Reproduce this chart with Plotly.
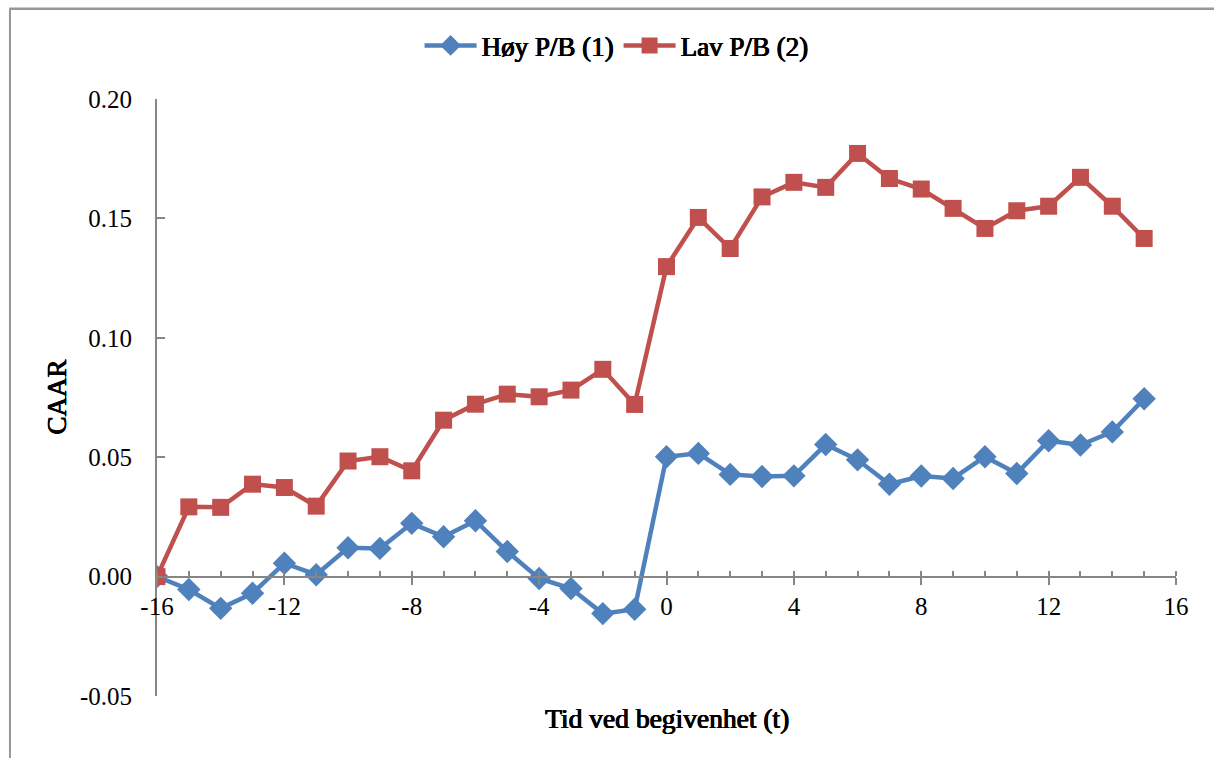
import plotly.graph_objects as go

t = list(range(-16, 16))
hoy = [0.000, -0.0054, -0.0133, -0.0070, 0.0056, 0.0008, 0.0121, 0.0118, 0.0223, 0.0167,
       0.0234, 0.0105, -0.0008, -0.0050, -0.0155, -0.0137,
       0.0502, 0.0516, 0.0428, 0.0419, 0.0422, 0.0553, 0.0489, 0.0387, 0.0421, 0.0411,
       0.0502, 0.0432, 0.0569, 0.0551, 0.0606, 0.0745]
lav = [0.000, 0.0292, 0.0290, 0.0387, 0.0373, 0.0295, 0.0484, 0.0502, 0.0443, 0.0655,
       0.0722, 0.0764, 0.0753, 0.0781, 0.0868, 0.0721,
       0.1298, 0.1504, 0.1374, 0.1590, 0.1651, 0.1630, 0.1772, 0.1667, 0.1623, 0.1542,
       0.1458, 0.1532, 0.1551, 0.1672, 0.1551, 0.1416]

x_tickvals = [-16, -12, -8, -4, 0, 4, 8, 12, 16]
x_ticktext = ["-16", "-12", "-8", "-4", "0", "4", "8", "12", "16"]
y_tickvals = [-0.05, 0.0, 0.05, 0.10, 0.15, 0.20]
y_ticktext = ["-0.05", "0.00", "0.05", "0.10", "0.15", "0.20"]

BLUE = "#4F81BD"
RED = "#C0504D"
AXIS = "#868686"
FONT = "Liberation Serif"
FAUX_BOLD = "0.7px 0 0 black, -0.3px 0 0 black, 0 0.4px 0 black"

fig = go.Figure()
fig.add_trace(go.Scatter(x=t, y=hoy, name="Høy P/B (1)", mode="lines+markers",
                         line=dict(color=BLUE, width=4.5),
                         marker=dict(symbol="diamond", size=18, color=BLUE)))
fig.add_trace(go.Scatter(x=t, y=lav, name="Lav P/B (2)", mode="lines+markers",
                         line=dict(color=RED, width=4.5),
                         marker=dict(symbol="square", size=17, color=RED)))

fig.update_layout(
    width=1214, height=758,
    margin=dict(l=157, r=38, t=99, b=62),
    paper_bgcolor="white", plot_bgcolor="white",
    font=dict(family=FONT, size=25, color="black"),
    showlegend=True,
    legend=dict(orientation="h", x=0.451, y=1.089, xanchor="center", yanchor="middle",
                font=dict(family=FONT, size=27, color="black", shadow=FAUX_BOLD),
                itemwidth=52, bgcolor="rgba(0,0,0,0)"),
    xaxis=dict(range=[-16, 16], tickmode="array", tickvals=x_tickvals, ticktext=x_ticktext,
               showgrid=False, zeroline=False, showline=True, linecolor=AXIS, linewidth=2,
               anchor="free", position=0.2,
               ticks="outside", ticklen=7, tickwidth=2, tickcolor=AXIS,
               minor=dict(ticks="inside", dtick=1, tick0=-16, ticklen=5, tickwidth=1.5,
                          tickcolor=AXIS),
               tickfont=dict(family=FONT, size=25)),
    yaxis=dict(range=[-0.05, 0.20], tickmode="array", tickvals=y_tickvals, ticktext=y_ticktext,
               showgrid=False, zeroline=False, showline=True,
               linecolor=AXIS, linewidth=2, ticks="inside", ticklen=8, tickwidth=2,
               tickcolor=AXIS, ticklabelstandoff=18, tickfont=dict(family=FONT, size=25)),
    annotations=[
        dict(text="Tid ved begivenhet (t)", xref="paper", yref="paper",
             x=0.5, y=-0.037, xanchor="center", yanchor="middle", showarrow=False,
             font=dict(family=FONT, size=27.5, color="black", shadow=FAUX_BOLD)),
        dict(text="CAAR", xref="paper", yref="paper", textangle=-90,
             x=-0.099, y=0.5, xanchor="center", yanchor="middle", showarrow=False,
             font=dict(family=FONT, size=27, color="black", shadow=FAUX_BOLD)),
    ],
    shapes=[
        dict(type="line", xref="paper", yref="paper", x0=-0.145, x1=1.05, y0=1.151, y1=1.151,
             line=dict(color="#979797", width=2.5)),
        dict(type="line", xref="paper", yref="paper", x0=-0.1443, x1=-0.1443, y0=1.151, y1=-0.12,
             line=dict(color="#979797", width=2)),
    ],
)

fig.write_html("out.html")
